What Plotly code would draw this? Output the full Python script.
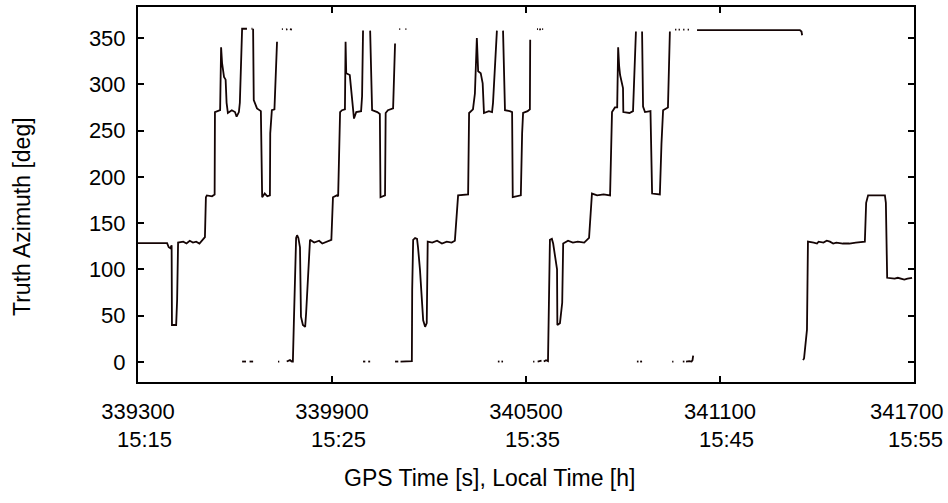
import plotly.graph_objects as go

N = None
# GPS time [s] and truth azimuth [deg]; None marks breaks (heading wrap 0/360)
t = [
    339300, 339390, 339395, 339400, 339404, 339405, 339418, 339421, 339424, 339440,
    339450, 339460, 339470, 339480, 339490, 339500, 339507, 339510, 339513, 339529,
    339537, 339538, 339554, 339557, 339560, 339566, 339571, 339574, 339578, 339590,
    339600, 339605, 339612, 339615, 339619, 339622, 339637, N,
    339651, 339654, N,
    339656, 339658, 339668, 339680, 339684, 339692, 339700, 339708, 339709, 339714,
    339722, 339724, 339730, N,
    339745, 339748, N, 339758, 339762, N, 339770, 339776, N,
    339622, 339634, N, 339645, 339656, N, 339733, 339737, N,
    339760, 339766, 339770, 339776, 339779, 339782, 339789, 339792, 339796, 339801,
    339804, 339810, 339817, 339820, 339826, 339832, 339845, 339860, 339870, 339885,
    339898, 339903, 339915, 339919, 339925, 339931, 339940, 339942, 339944, 339955,
    339962, 339968, 339975, 339990, 339993, 339996, N,
    339996, 340003, N, 340012, 340018, N,
    340018, 340024, 340040, 340048, 340050, 340064, 340066, 340073, 340089, 340095, N,
    340108, 340111, N, 340127, 340130, N,
    340095, 340105, N, 340112, 340125, 340140, 340147, 340148, 340151, 340157, 340163,
    340166, 340172, 340182, 340188, 340193, 340196, 340210, 340225, 340240, 340255,
    340270, 340280, 340290, 340321, 340324, 340336, 340342, 340348, 340352, 340360,
    340366, 340370, 340385, 340395, 340398, 340410, N,
    340413, 340418, N, 340424, 340429, N,
    340429, 340435, 340450, 340457, 340459, 340484, 340488, 340491, 340505, 340512,
    340513, N,
    340534, 340537, N, 340541, 340546, N, 340550, 340553, N,
    340522, 340526, N, 340536, 340548, N, 340555, 340562, 340568, 340570, 340574, 340580,
    340584, 340596, 340597, 340605, 340612, 340615, 340630, 340645, 340660, 340680,
    340695, 340704, 340720, 340740, 340760, 340766, 340775, 340782, 340785, 340788,
    340791, 340800, 340801, 340820, 340831, 340840, N,
    340843, 340848, N, 340853, 340859, N,
    340859, 340862, 340868, 340885, 340890, 340914, 340919, 340924, 340939, 340945, N,
    340961, 340965, N, 340972, 340976, N, 340986, 340990, N, 341000, 341004, N,
    341029, 341347, 341352, 341354, N,
    340952, 340956, N, 340985, 340990, N, 340995, 341005, 341012, 341015, 341017, N,
    341357, 341360, 341369, 341372, 341390, 341400, 341405, 341420, 341430, 341440,
    341450, 341460, 341480, 341500, 341520, 341548, 341552, 341558, 341610, 341613,
    341617, 341640, 341650, 341660, 341670, 341680, 341694,
]
az = [
    128.5, 128.5, 124, 123, 126, 40, 40, 67, 129, 130,
    128, 131, 129, 130, 128, 132, 135, 178, 180, 179,
    181, 270, 272, 340, 323, 308, 305, 280, 269, 272,
    270, 265, 270, 280, 335, 360, 360, N,
    360, 360, N,
    360, 283, 274, 271, 178, 182, 179, 180, 247, 272,
    273, 297, 346, N,
    359.5, 359.5, N, 359, 359.5, N, 359.5, 359, N,
    0.5, 0.5, N, 0.5, 0.5, N, 0.5, 0.5, N,
    0.5, 1, 2, 0.5, 0.5, 42, 134, 137, 134, 124,
    49, 40, 38, 53, 99, 132, 129, 131, 128, 130,
    132, 178, 180, 179, 270, 272, 273, 346, 312, 310,
    287, 263, 270, 271, 287, 358, N,
    0.5, 0.5, N, 0.5, 0.5, N,
    358, 272, 270, 268, 178, 180, 269, 272, 274, 344, N,
    359.5, 359.5, N, 359.5, 359.5, N,
    0.5, 0.5, N, 0.5, 0.5, 1, 1, 78, 132, 134, 133,
    124, 100, 45, 38, 42, 130, 129, 131, 128, 130,
    129, 131, 180, 181, 269, 273, 290, 350, 314, 312,
    301, 269, 271, 270, 280, 358, N,
    0.5, 0.5, N, 0.5, 0.5, N,
    358, 272, 271, 270, 178, 180, 247, 269, 271, 273,
    348, N,
    359.5, 359.5, N, 359, 359.5, N, 359.5, 359.5, N,
    0.5, 0.5, N, 0.5, 1.5, N, 0.5, 2, 1, 49, 132, 133,
    128, 100, 40, 42, 64, 128, 131, 129, 130, 129,
    134, 182, 180, 181, 180, 270, 275, 275, 340, 320,
    310, 296, 270, 269, 271, 357, N,
    0.5, 0.5, N, 0.5, 0.5, N,
    357, 276, 270, 271, 182, 181, 236, 272, 275, 357, N,
    359, 359, N, 359, 359, N, 359, 359, N, 359, 359, N,
    358.6, 358.6, 357, 353, N,
    0.5, 0.5, N, 0.5, 0.5, N, 0.5, 1, 0.5, 2, 7, N,
    2, 4, 35, 130, 129, 128, 130, 129, 131, 130,
    128, 129, 128, 128, 129, 130, 172, 180, 180, 172,
    91, 90, 91, 90, 89, 90, 91,
]

xtick_vals = [339300, 339900, 340500, 341100, 341700]
xtick_gps = ["339300", "339900", "340500", "341100", "341700"]
xtick_local = ["15:15", "15:25", "15:35", "15:45", "15:55"]
ytick_vals = [0, 50, 100, 150, 200, 250, 300, 350]

FONT = "Liberation Sans, Arial, sans-serif"
fsize = 22

fig = go.Figure()
fig.add_trace(go.Scatter(
    x=t, y=az, mode="lines", connectgaps=False,
    line=dict(color="#140404", width=1.8), showlegend=False,
))

annotations = [
    dict(text="Truth Azimuth [deg]", textangle=-90, showarrow=False,
         xref="paper", yref="paper", x=0, y=0.44, xshift=-116,
         xanchor="center", yanchor="middle", font=dict(size=23)),
    dict(text="GPS Time [s], Local Time [h]", showarrow=False,
         xref="paper", yref="paper", x=0.4536, y=0, yshift=-96,
         xanchor="center", yanchor="middle", font=dict(size=23)),
]
last = len(xtick_vals) - 1
# the last GPS label sits flush at the right edge of the page
annotations.append(dict(
    text=xtick_gps[last], showarrow=False, xref="x", yref="paper",
    x=xtick_vals[last], y=0, xshift=31, yshift=-29,
    xanchor="right", yanchor="middle", font=dict(size=fsize)))
# second line of the x tick labels (local time), right-aligned under the GPS seconds
for i, (v, lt) in enumerate(zip(xtick_vals, xtick_local)):
    shift = 36 if i < last else 31
    annotations.append(dict(
        text=lt, showarrow=False, xref="x", yref="paper", x=v, y=0,
        xshift=shift, yshift=-57, xanchor="right", yanchor="middle",
        font=dict(size=fsize)))

fig.update_layout(
    width=948, height=503,
    margin=dict(l=138, r=34, t=7, b=121, autoexpand=False),
    paper_bgcolor="white", plot_bgcolor="white",
    font=dict(family=FONT, size=fsize, color="black"),
    xaxis=dict(
        range=[339300, 341700], automargin=False,
        tickmode="array", tickvals=xtick_vals,
        ticktext=xtick_gps[:last] + [""],
        ticks="inside", ticklen=6, tickwidth=1.5, tickcolor="black",
        showline=True, linecolor="black", linewidth=2, mirror="ticks",
        showgrid=False, zeroline=False, ticklabelstandoff=9,
        ticklabeloverflow="allow",
    ),
    yaxis=dict(
        range=[-21.6, 383.5], automargin=False,
        tickmode="array", tickvals=ytick_vals,
        ticks="inside", ticklen=6, tickwidth=1.5, tickcolor="black",
        showline=True, linecolor="black", linewidth=2, mirror="ticks",
        showgrid=False, zeroline=False, ticklabelstandoff=6,
    ),
    annotations=annotations,
)

fig.write_html("out.html")
